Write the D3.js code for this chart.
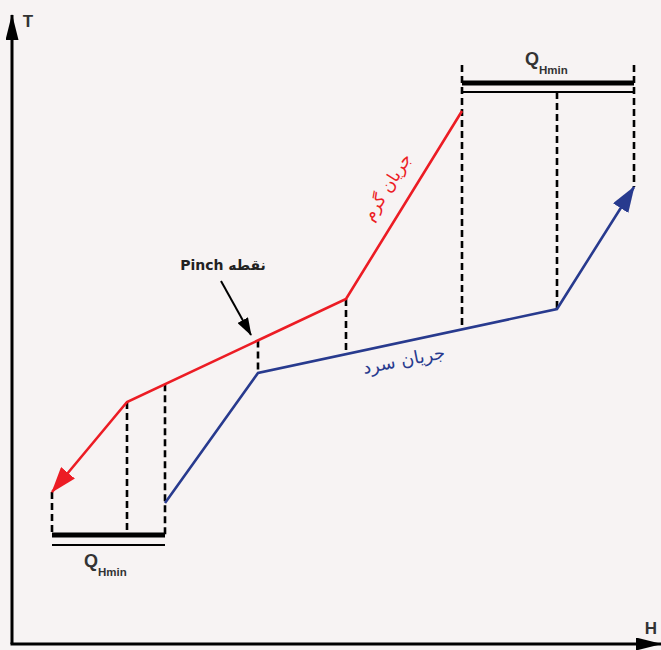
<!DOCTYPE html>
<html>
<head>
<meta charset="utf-8">
<script src="https://cdn.jsdelivr.net/npm/d3@7"></script>
<style>
  body { margin: 0; background: #f7f3f3; }
  svg { display: block; }
</style>
</head>
<body>
<div id="chart"></div>
<script>
var svg_width = 661,
    svg_height = 650

// stream data (H, T) in chart units
var hotH = [450, 334, 115, 40]
var hotT = [534, 346, 243, 153]
var coldH = [153, 246, 545, 622]
var coldT = [142, 272, 336, 458]

// vertical dashed guides
var guideH = [40, 115, 153, 246, 334, 450, 545, 622]

// Q Hmin bars
var topBar = { h0: 450, h1: 622, tThick: 562, tThin: 553 }
var botBar = { h0: 40, h1: 153, tThick: 110, tThin: 100 }

var xScale = d3.scaleLinear().domain([0, 650]).range([12, 662])
var yScale = d3.scaleLinear().domain([0, 630]).range([645, 15])

var red = '#ec1c24', blue = '#283a8e'
var latin = '"Liberation Sans", Arial, sans-serif'

var svg = d3.select('#chart')
  .append('svg')
  .attr('width', svg_width)
  .attr('height', svg_height)
  .style('background', '#f7f3f3')

var defs = svg.append('defs')
function marker(id, color, w, h) {
  defs.append('marker')
    .attr('id', id)
    .attr('markerUnits', 'userSpaceOnUse')
    .attr('viewBox', `0 0 ${w} ${h}`)
    .attr('refX', w - 1).attr('refY', h / 2)
    .attr('markerWidth', w).attr('markerHeight', h)
    .attr('orient', 'auto')
    .append('path')
    .attr('d', `M0,0 L${w},${h / 2} L0,${h} Z`)
    .attr('fill', color)
}
marker('arrRed', red, 26, 18)
marker('arrBlue', blue, 26, 18)
marker('arrBlack', '#000', 18, 12)
marker('arrAxis', '#000', 26, 13)

// interpolate T on a stream at a given H
function interp(Hs, Ts, h) {
  var pts = Hs.map((d, i) => [d, Ts[i]]).sort((a, b) => a[0] - b[0])
  for (var i = 0; i < pts.length - 1; i++) {
    if (h >= pts[i][0] && h <= pts[i + 1][0]) {
      var t = (h - pts[i][0]) / (pts[i + 1][0] - pts[i][0])
      return pts[i][1] + t * (pts[i + 1][1] - pts[i][1])
    }
  }
  return null
}

// axes
svg.append('line')
  .attr('x1', xScale(0)).attr('y1', yScale(0) - 1)
  .attr('x2', xScale(0)).attr('y2', 15)
  .attr('stroke', '#000').attr('stroke-width', 3)
  .attr('marker-end', 'url(#arrAxis)')
svg.append('line')
  .attr('x1', xScale(0) - 1.5).attr('y1', yScale(0) - 1)
  .attr('x2', 661).attr('y2', yScale(0) - 1)
  .attr('stroke', '#000').attr('stroke-width', 3)
  .attr('marker-end', 'url(#arrAxis)')

svg.append('text').text('T')
  .attr('x', 28).attr('y', 27)
  .attr('text-anchor', 'middle')
  .attr('font-family', latin).attr('font-weight', 'bold').attr('font-size', 17)
  .attr('fill', '#333')
svg.append('text').text('H')
  .attr('x', 651).attr('y', 634)
  .attr('text-anchor', 'middle')
  .attr('font-family', latin).attr('font-weight', 'bold').attr('font-size', 17)
  .attr('fill', '#333')

// dashed guides
var guideEnds = guideH.map(h => {
  var hot = interp(hotH, hotT, h)
  var cold = interp(coldH, coldT, h)
  var top, bottom
  if (h <= botBar.h1) { top = hot; bottom = botBar.tThick }
  else if (h >= topBar.h0) {
    top = (h === topBar.h0 || h === topBar.h1) ? 580 : topBar.tThin
    bottom = cold
  } else { top = hot; bottom = cold }
  return { h: h, t0: top, t1: bottom }
})

svg.append('g')
  .selectAll('line')
  .data(guideEnds)
  .enter()
  .append('line')
  .attr('x1', d => xScale(d.h)).attr('x2', d => xScale(d.h))
  .attr('y1', d => yScale(d.t0)).attr('y2', d => yScale(d.t1))
  .attr('stroke', '#000')
  .attr('stroke-width', 2.6)
  .attr('stroke-dasharray', '7,4')

// bars
;[topBar, botBar].forEach(b => {
  svg.append('line')
    .attr('x1', xScale(b.h0)).attr('x2', xScale(b.h1))
    .attr('y1', yScale(b.tThick)).attr('y2', yScale(b.tThick))
    .attr('stroke', '#000').attr('stroke-width', 5)
  svg.append('line')
    .attr('x1', xScale(b.h0)).attr('x2', xScale(b.h1))
    .attr('y1', yScale(b.tThin)).attr('y2', yScale(b.tThin))
    .attr('stroke', '#000').attr('stroke-width', 2)
})

// streams
var line = d3.line().x(d => xScale(d[0])).y(d => yScale(d[1]))
svg.append('path')
  .datum(hotH.map((d, i) => [d, hotT[i]]))
  .attr('d', line)
  .attr('fill', 'none')
  .attr('stroke', red).attr('stroke-width', 2.6)
  .attr('marker-end', 'url(#arrRed)')
svg.append('path')
  .datum(coldH.map((d, i) => [d, coldT[i]]))
  .attr('d', line)
  .attr('fill', 'none')
  .attr('stroke', blue).attr('stroke-width', 2.6)
  .attr('marker-end', 'url(#arrBlue)')

// Q Hmin labels
function qLabel(x, y) {
  var t = svg.append('text')
    .attr('x', x).attr('y', y)
    .attr('fill', '#333')
    .attr('font-family', latin).attr('font-weight', 'bold').attr('font-size', 18)
  t.append('tspan').text('Q')
  t.append('tspan').text('Hmin')
    .attr('dy', 9)
    .attr('font-size', 11.5)
}
qLabel(525, 65)
qLabel(84, 567)

// pinch
svg.append('text').text('نقطه Pinch')
  .attr('x', 223).attr('y', 270)
  .attr('text-anchor', 'middle')
  .attr('direction', 'rtl')
  .attr('fill', '#222')
  .attr('font-family', '"DejaVu Sans", "Liberation Sans", sans-serif')
  .attr('font-weight', 'bold').attr('font-size', 14)
svg.append('line')
  .attr('x1', 221).attr('y1', 281)
  .attr('x2', 251).attr('y2', 335)
  .attr('stroke', '#000').attr('stroke-width', 2)
  .attr('marker-end', 'url(#arrBlack)')

// stream labels
svg.append('text').text('جریان گرم')
  .attr('transform', 'translate(392,190) rotate(-58)')
  .attr('text-anchor', 'middle')
  .attr('fill', red)
  .attr('font-family', '"DejaVu Sans", sans-serif').attr('font-size', 17)
svg.append('text').text('جریان سرد')
  .attr('transform', 'translate(405,366) rotate(-11)')
  .attr('text-anchor', 'middle')
  .attr('fill', blue)
  .attr('font-family', '"DejaVu Sans", sans-serif').attr('font-size', 18)
</script>
</body>
</html>
